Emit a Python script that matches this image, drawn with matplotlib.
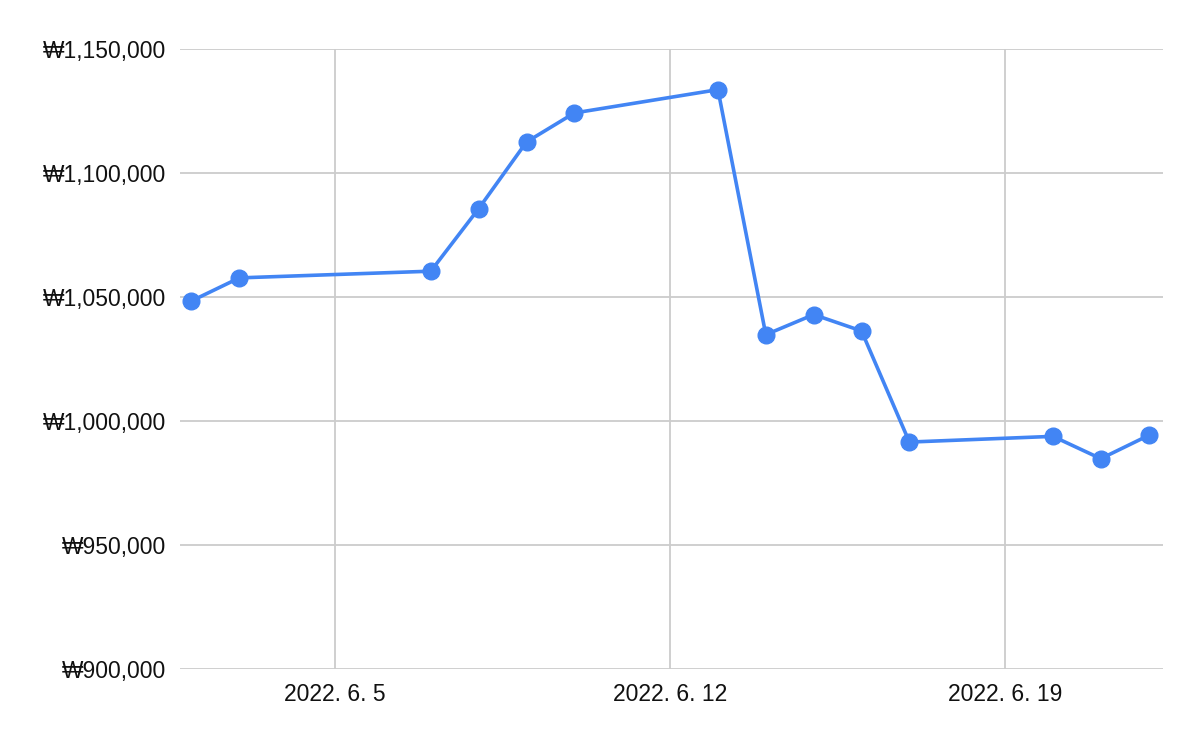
import matplotlib
matplotlib.use("Agg")
import matplotlib.pyplot as plt
import matplotlib.dates as mdates
from matplotlib.ticker import FuncFormatter, FixedLocator
import datetime as dt

dates = ["2022-06-02", "2022-06-03", "2022-06-07", "2022-06-08", "2022-06-09",
         "2022-06-10", "2022-06-13", "2022-06-14", "2022-06-15", "2022-06-16",
         "2022-06-17", "2022-06-20", "2022-06-21", "2022-06-22"]
values = [1048400, 1057700, 1060400, 1085600, 1112500, 1124200, 1133600,
          1034800, 1042900, 1036300, 991500, 993800, 984800, 994200]
x_ticks = ["2022-06-05", "2022-06-12", "2022-06-19"]
x_tick_labels = ["2022. 6. 5", "2022. 6. 12", "2022. 6. 19"]
y_ticks = [900000, 950000, 1000000, 1050000, 1100000, 1150000]

plt.rcParams['font.family'] = ['Liberation Sans', 'DejaVu Sans']

fig = plt.figure(figsize=(12, 7.42), dpi=100)
ax = fig.add_axes([0.15, 0.0984, 0.8192, 0.8356])

xd = [dt.datetime.strptime(d, "%Y-%m-%d") for d in dates]
ax.plot(xd, values, color="#4285F4", linewidth=2.6, marker="o",
        markersize=12, zorder=3, clip_on=False)

xt = [mdates.date2num(dt.datetime.strptime(d, "%Y-%m-%d")) for d in x_ticks]
ax.xaxis.set_major_locator(FixedLocator(xt))
ax.set_xticklabels(x_tick_labels)
x0 = mdates.date2num(dt.datetime(2022, 6, 5))
ax.set_xlim(x0 - 3.24, x0 + 17.30)

ax.set_ylim(900000, 1150000)
ax.set_yticks(y_ticks)
ax.yaxis.set_major_formatter(FuncFormatter(lambda v, p: "₩{:,.0f}".format(v)))

for s in ax.spines.values():
    s.set_visible(False)
ax.grid(True, color="#cccccc", linewidth=1.3, zorder=0)
ax.set_axisbelow(True)
ax.tick_params(axis='both', length=0, labelsize=16.5, colors="#111111")
ax.tick_params(axis='y', pad=10)
ax.tick_params(axis='x', pad=10)

fig.savefig("out.png", dpi=100)
